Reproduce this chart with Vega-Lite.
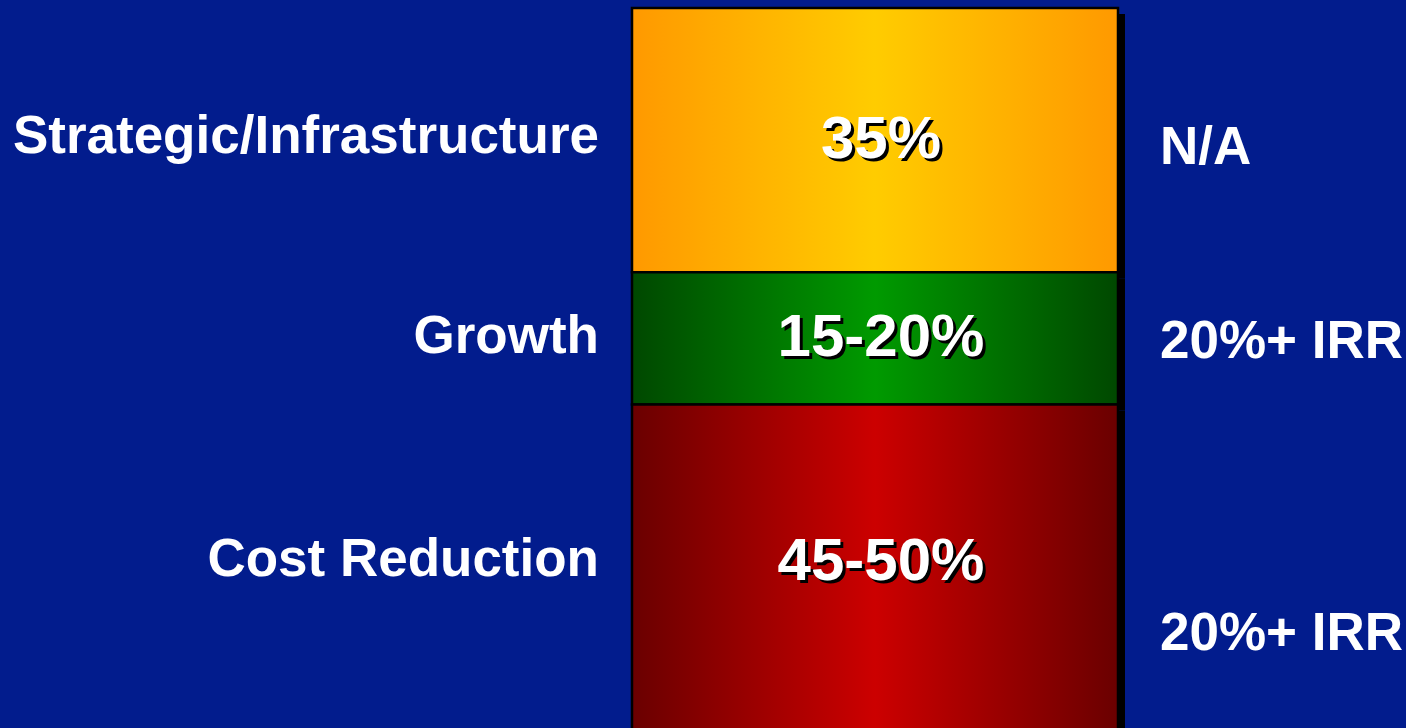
{
  "$schema": "https://vega.github.io/schema/vega-lite/v6.json",
  "width": 486,
  "height": 728,
  "autosize": {"type": "none"},
  "padding": {"left": 632, "right": 288, "top": 0, "bottom": 0},
  "background": "#021c8d",
  "config": {"view": {"stroke": null}, "font": "Liberation Sans"},
  "data": {
    "values": [
      {"segment": "Strategic/Infrastructure", "order": 1, "share": 35, "label": "35%", "hurdle": "N/A"},
      {"segment": "Growth", "order": 2, "share": 17.5, "label": "15-20%", "hurdle": "20%+ IRR"},
      {"segment": "Cost Reduction", "order": 3, "share": 47.5, "label": "45-50%", "hurdle": "20%+ IRR"}
    ]
  },
  "encoding": {
    "order": {"field": "order", "type": "quantitative"},
    "detail": {"field": "segment", "type": "nominal"}
  },
  "layer": [
    {
      "transform": [{"stack": "share", "groupby": [], "sort": [{"field": "order", "order": "ascending"}], "as": ["s0", "s1"]}],
      "mark": {"type": "rect", "color": "black", "xOffset": 7, "x2Offset": 7, "yOffset": 6, "y2Offset": 6},
      "encoding": {
        "x": {"value": 0},
        "x2": {"value": "width"},
        "y": {"field": "s0", "type": "quantitative", "scale": {"domain": [-1.06, 95.36], "reverse": true, "nice": false, "zero": false}, "axis": null},
        "y2": {"field": "s1"}
      }
    },
    {
      "transform": [{"stack": "share", "groupby": [], "sort": [{"field": "order", "order": "ascending"}], "as": ["s0", "s1"]}],
      "mark": {"type": "rect", "stroke": "black", "strokeWidth": 2.5},
      "encoding": {
        "x": {"value": 0},
        "x2": {"value": "width"},
        "y": {"field": "s0", "type": "quantitative", "scale": {"domain": [-1.06, 95.36], "reverse": true, "nice": false, "zero": false}, "axis": null},
        "y2": {"field": "s1"},
        "fill": {
          "condition": [
            {"test": "datum.order === 1", "value": {"gradient": "linear", "x1": 0, "x2": 1, "y1": 0, "y2": 0, "stops": [{"offset": 0, "color": "#ff9900"}, {"offset": 0.5, "color": "#ffcc00"}, {"offset": 1, "color": "#ff9900"}]}},
            {"test": "datum.order === 2", "value": {"gradient": "linear", "x1": 0, "x2": 1, "y1": 0, "y2": 0, "stops": [{"offset": 0, "color": "#004800"}, {"offset": 0.5, "color": "#009a00"}, {"offset": 1, "color": "#004800"}]}}
          ],
          "value": {"gradient": "linear", "x1": 0, "x2": 1, "y1": 0, "y2": 0, "stops": [{"offset": 0, "color": "#6a0000"}, {"offset": 0.5, "color": "#cc0000"}, {"offset": 1, "color": "#6a0000"}]}
        }
      }
    },
    {
      "mark": {"type": "text", "fontWeight": "bold", "fontSize": 53, "fill": "white", "align": "right", "baseline": "middle", "dx": -33},
      "encoding": {
        "x": {"value": 0},
        "y": {"field": "share", "type": "quantitative", "stack": "zero", "bandPosition": 0.49, "scale": {"domain": [-1.06, 95.36], "reverse": true, "nice": false, "zero": false}, "axis": null},
        "text": {"field": "segment"},
        "opacity": {"condition": {"test": "datum.order < 3", "value": 1}, "value": 0}
      }
    },
    {
      "mark": {"type": "text", "fontWeight": "bold", "fontSize": 53, "fill": "white", "align": "right", "baseline": "middle", "dx": -33},
      "encoding": {
        "x": {"value": 0},
        "y": {"field": "share", "type": "quantitative", "stack": "zero", "bandPosition": 0.435, "scale": {"domain": [-1.06, 95.36], "reverse": true, "nice": false, "zero": false}, "axis": null},
        "text": {"field": "segment"},
        "opacity": {"condition": {"test": "datum.order === 3", "value": 1}, "value": 0}
      }
    },
    {
      "mark": {"type": "text", "fontWeight": "bold", "fontSize": 60, "fill": "black", "align": "center", "baseline": "middle", "dx": 9, "dy": 3},
      "encoding": {
        "y": {"field": "share", "type": "quantitative", "stack": "zero", "bandPosition": 0.5, "scale": {"domain": [-1.06, 95.36], "reverse": true, "nice": false, "zero": false}, "axis": null},
        "text": {"field": "label"},
        "opacity": {"condition": {"test": "datum.order < 3", "value": 1}, "value": 0}
      }
    },
    {
      "mark": {"type": "text", "fontWeight": "bold", "fontSize": 60, "fill": "black", "align": "center", "baseline": "middle", "dx": 9, "dy": 3},
      "encoding": {
        "y": {"field": "share", "type": "quantitative", "stack": "zero", "bandPosition": 0.44, "scale": {"domain": [-1.06, 95.36], "reverse": true, "nice": false, "zero": false}, "axis": null},
        "text": {"field": "label"},
        "opacity": {"condition": {"test": "datum.order === 3", "value": 1}, "value": 0}
      }
    },
    {
      "mark": {"type": "text", "fontWeight": "bold", "fontSize": 60, "fill": "white", "align": "center", "baseline": "middle", "dx": 6},
      "encoding": {
        "y": {"field": "share", "type": "quantitative", "stack": "zero", "bandPosition": 0.5, "scale": {"domain": [-1.06, 95.36], "reverse": true, "nice": false, "zero": false}, "axis": null},
        "text": {"field": "label"},
        "opacity": {"condition": {"test": "datum.order < 3", "value": 1}, "value": 0}
      }
    },
    {
      "mark": {"type": "text", "fontWeight": "bold", "fontSize": 60, "fill": "white", "align": "center", "baseline": "middle", "dx": 6},
      "encoding": {
        "y": {"field": "share", "type": "quantitative", "stack": "zero", "bandPosition": 0.44, "scale": {"domain": [-1.06, 95.36], "reverse": true, "nice": false, "zero": false}, "axis": null},
        "text": {"field": "label"},
        "opacity": {"condition": {"test": "datum.order === 3", "value": 1}, "value": 0}
      }
    },
    {
      "mark": {"type": "text", "fontWeight": "bold", "fontSize": 53, "fill": "white", "align": "left", "baseline": "middle", "dx": 42},
      "encoding": {
        "x": {"value": "width"},
        "y": {"field": "share", "type": "quantitative", "stack": "zero", "bandPosition": 0.53, "scale": {"domain": [-1.06, 95.36], "reverse": true, "nice": false, "zero": false}, "axis": null},
        "text": {"field": "hurdle"},
        "opacity": {"condition": {"test": "datum.order < 3", "value": 1}, "value": 0}
      }
    },
    {
      "mark": {"type": "text", "fontWeight": "bold", "fontSize": 53, "fill": "white", "align": "left", "baseline": "middle", "dx": 42},
      "encoding": {
        "x": {"value": "width"},
        "y": {"field": "share", "type": "quantitative", "stack": "zero", "bandPosition": 0.64, "scale": {"domain": [-1.06, 95.36], "reverse": true, "nice": false, "zero": false}, "axis": null},
        "text": {"field": "hurdle"},
        "opacity": {"condition": {"test": "datum.order === 3", "value": 1}, "value": 0}
      }
    }
  ]
}
